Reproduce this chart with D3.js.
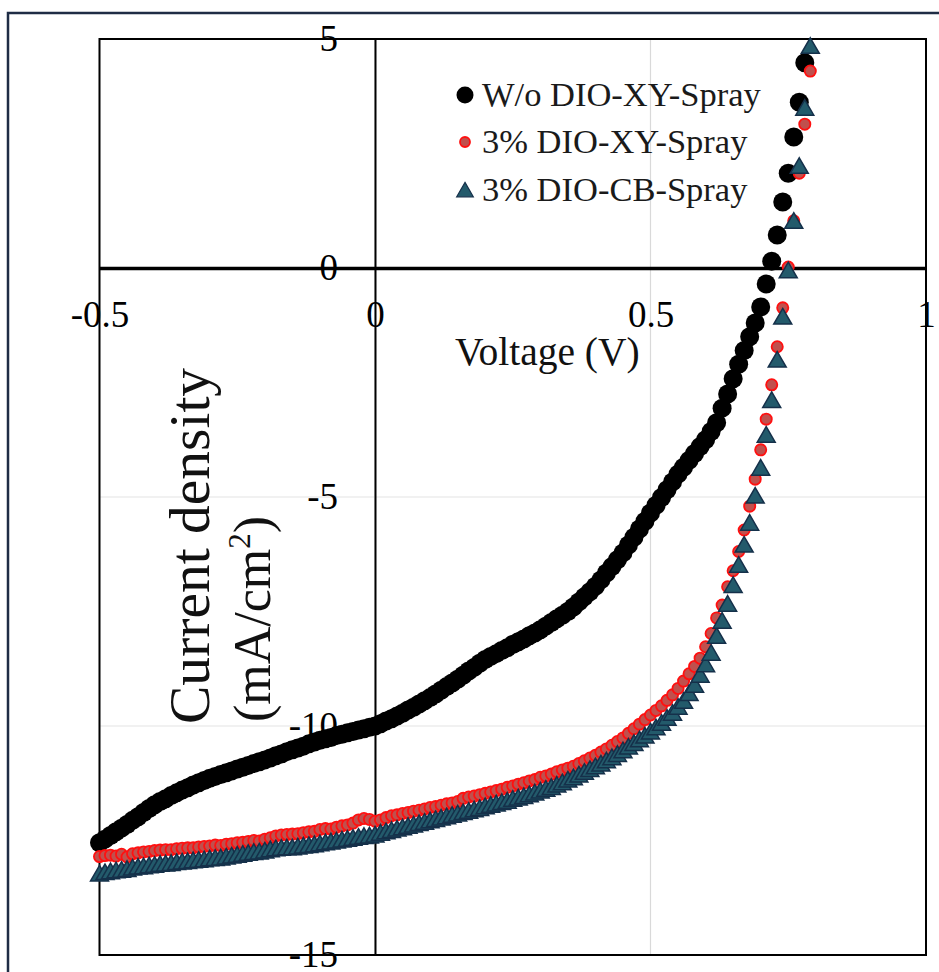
<!DOCTYPE html>
<html>
<head>
<meta charset="utf-8">
<script src="https://cdn.jsdelivr.net/npm/d3@7"></script>
<style>
  body { margin: 0; background: #fff; }
  svg { display: block; font-family: "Liberation Serif", "Times New Roman", serif; }
</style>
</head>
<body>
<div id="chart"></div>
<script>
// voltage sweep (V)
const volts = [
  -0.50, -0.49, -0.48, -0.47, -0.46, -0.45, -0.44, -0.43, -0.42, -0.41,
  -0.40, -0.39, -0.38, -0.37, -0.36, -0.35, -0.34, -0.33, -0.32, -0.31,
  -0.30, -0.29, -0.28, -0.27, -0.26, -0.25, -0.24, -0.23, -0.22, -0.21,
  -0.20, -0.19, -0.18, -0.17, -0.16, -0.15, -0.14, -0.13, -0.12, -0.11,
  -0.10, -0.09, -0.08, -0.07, -0.06, -0.05, -0.04, -0.03, -0.02, -0.01,
  0.00, 0.01, 0.02, 0.03, 0.04, 0.05, 0.06, 0.07, 0.08, 0.09,
  0.10, 0.11, 0.12, 0.13, 0.14, 0.15, 0.16, 0.17, 0.18, 0.19,
  0.20, 0.21, 0.22, 0.23, 0.24, 0.25, 0.26, 0.27, 0.28, 0.29,
  0.30, 0.31, 0.32, 0.33, 0.34, 0.35, 0.36, 0.37, 0.38, 0.39,
  0.40, 0.41, 0.42, 0.43, 0.44, 0.45, 0.46, 0.47, 0.48, 0.49,
  0.50, 0.51, 0.52, 0.53, 0.54, 0.55, 0.56, 0.57, 0.58, 0.59,
  0.60, 0.61, 0.62, 0.63, 0.64, 0.65, 0.66, 0.67, 0.68, 0.69,
  0.70, 0.71, 0.72, 0.73, 0.74, 0.75, 0.76, 0.77, 0.78, 0.79
];

// current density (mA/cm2), W/o DIO-XY-Spray
const jNoDio = [
  -12.55, -12.47, -12.39, -12.31, -12.23, -12.15, -12.06, -11.98, -11.89, -11.80,
  -11.72, -11.65, -11.59, -11.52, -11.46, -11.40, -11.35, -11.29, -11.24, -11.19,
  -11.14, -11.10, -11.06, -11.02, -10.98, -10.94, -10.90, -10.86, -10.82, -10.78,
  -10.74, -10.70, -10.65, -10.61, -10.56, -10.52, -10.48, -10.44, -10.39, -10.35,
  -10.31, -10.28, -10.25, -10.21, -10.18, -10.15, -10.12, -10.09, -10.06, -10.03,
  -10.00, -9.95, -9.89, -9.84, -9.78, -9.72, -9.65, -9.59, -9.52, -9.45,
  -9.38, -9.30, -9.22, -9.14, -9.06, -8.98, -8.89, -8.80, -8.72, -8.63,
  -8.55, -8.48, -8.42, -8.35, -8.29, -8.22, -8.16, -8.10, -8.03, -7.97,
  -7.90, -7.82, -7.74, -7.66, -7.58, -7.50, -7.40, -7.29, -7.18, -7.07,
  -6.95, -6.81, -6.66, -6.52, -6.37, -6.22, -6.05, -5.88, -5.70, -5.53,
  -5.35, -5.18, -5.01, -4.84, -4.67, -4.50, -4.35, -4.20, -4.05, -3.90,
  -3.75, -3.57, -3.38, -3.06, -2.75, -2.42, -2.10, -1.80, -1.50, -1.20,
  -0.85, -0.35, 0.15, 0.72, 1.44, 2.07, 2.86, 3.62, 4.48
];

// 3% DIO-XY-Spray
const jDioXy = [
  -12.85, -12.83, -12.82, -12.84, -12.80, -12.86, -12.79, -12.77, -12.75, -12.74,
  -12.72, -12.71, -12.70, -12.70, -12.68, -12.67, -12.66, -12.66, -12.64, -12.63,
  -12.62, -12.60, -12.61, -12.58, -12.57, -12.55, -12.54, -12.52, -12.50, -12.51,
  -12.47, -12.44, -12.40, -12.38, -12.37, -12.36, -12.35, -12.33, -12.31, -12.30,
  -12.26, -12.24, -12.25, -12.21, -12.18, -12.16, -12.12, -12.05, -12.02, -12.04,
  -12.08, -12.05, -12.00, -11.96, -11.94, -11.91, -11.89, -11.86, -11.84, -11.81,
  -11.78, -11.76, -11.73, -11.70, -11.68, -11.65, -11.58, -11.55, -11.53, -11.50,
  -11.47, -11.44, -11.41, -11.38, -11.34, -11.31, -11.27, -11.24, -11.20, -11.17,
  -11.12, -11.09, -11.05, -11.00, -10.96, -10.92, -10.88, -10.82, -10.76, -10.70,
  -10.64, -10.57, -10.50, -10.42, -10.34, -10.26, -10.16, -10.06, -9.96, -9.86,
  -9.76, -9.66, -9.56, -9.44, -9.32, -9.18, -9.02, -8.86, -8.70, -8.52,
  -8.27, -7.98, -7.64, -7.36, -6.96, -6.61, -6.19, -5.72, -5.20, -4.61,
  -3.97, -3.30, -2.55, -1.72, -0.87, 0.02, 1.03, 2.07, 3.14, 4.30
];

// 3% DIO-CB-Spray
const jDioCb = [
  -13.27, -13.24, -13.22, -13.20, -13.19, -13.17, -13.14, -13.12, -13.11, -13.09,
  -13.08, -13.06, -13.05, -13.04, -13.02, -13.01, -13.00, -12.98, -12.97, -12.96,
  -12.94, -12.93, -12.92, -12.90, -12.88, -12.86, -12.84, -12.82, -12.80, -12.79,
  -12.77, -12.74, -12.72, -12.71, -12.70, -12.70, -12.68, -12.66, -12.65, -12.63,
  -12.61, -12.59, -12.57, -12.55, -12.53, -12.51, -12.49, -12.47, -12.45, -12.44,
  -12.42, -12.38, -12.35, -12.32, -12.29, -12.26, -12.23, -12.20, -12.17, -12.14,
  -12.11, -12.08, -12.05, -12.02, -11.99, -11.96, -11.93, -11.90, -11.87, -11.84,
  -11.80, -11.77, -11.74, -11.71, -11.68, -11.64, -11.61, -11.58, -11.54, -11.50,
  -11.46, -11.42, -11.38, -11.33, -11.28, -11.22, -11.17, -11.11, -11.05, -10.99,
  -10.93, -10.87, -10.80, -10.73, -10.66, -10.58, -10.50, -10.42, -10.34, -10.26,
  -10.17, -10.08, -9.98, -9.87, -9.76, -9.63, -9.50, -9.33, -9.15, -8.93,
  -8.70, -8.45, -8.08, -7.75, -7.38, -6.97, -6.53, -6.09, -5.61, -5.02,
  -4.41, -3.69, -2.93, -2.05, -1.11, -0.10, 0.98, 2.18, 3.45, 4.80
];

const seriesNames = ["W/o DIO-XY-Spray", "3% DIO-XY-Spray", "3% DIO-CB-Spray"];
const xTicks = [-0.5, 0, 0.5, 1];
const xTickLabels = ["-0.5", "0", "0.5", "1"];
const yTicks = [5, 0, -5, -10, -15];
const yTickLabels = ["5", "0", "-5", "-10", "-15"];

const width = 939;
const height = 972;
const plot = { left: 99.5, right: 926, top: 39, bottom: 955 };
const serif = "'Liberation Serif', 'Times New Roman', serif";

const x = d3.scaleLinear().domain([-0.5, 1]).range([plot.left, plot.right]);
const y = d3.scaleLinear().domain([5, -15]).range([plot.top, plot.bottom]);

const svg = d3.select("#chart")
  .append("svg")
  .attr("width", width)
  .attr("height", height);

svg.append("rect")
  .attr("width", width)
  .attr("height", height)
  .attr("fill", "#fff");

// outer chart border (runs off the right / bottom edge)
svg.append("rect")
  .attr("x", 8)
  .attr("y", 13)
  .attr("width", width + 20)
  .attr("height", height + 20)
  .attr("fill", "none")
  .attr("stroke", "#1f2d45")
  .attr("stroke-width", 2.5);

// gridlines
svg.append("g")
  .selectAll("line")
  .data(xTicks)
  .enter()
  .append("line")
  .attr("x1", d => x(d))
  .attr("x2", d => x(d))
  .attr("y1", plot.top)
  .attr("y2", plot.bottom)
  .attr("stroke", "#d9d9d9")
  .attr("stroke-width", 1.2);

svg.append("g")
  .selectAll("line")
  .data(yTicks)
  .enter()
  .append("line")
  .attr("x1", plot.left)
  .attr("x2", plot.right)
  .attr("y1", d => y(d))
  .attr("y2", d => y(d))
  .attr("stroke", "#e3e3e3")
  .attr("stroke-width", 1.2);

// plot frame
svg.append("rect")
  .attr("x", plot.left)
  .attr("y", plot.top)
  .attr("width", plot.right - plot.left)
  .attr("height", plot.bottom - plot.top)
  .attr("fill", "none")
  .attr("stroke", "#000")
  .attr("stroke-width", 2);

// axes crossing at the origin
const xAxis = svg.append("g")
  .attr("transform", `translate(0,${y(0)})`)
  .call(d3.axisBottom(x)
    .tickValues(xTicks)
    .tickFormat((d, i) => xTickLabels[i])
    .tickSize(0)
    .tickPadding(33));

const yAxis = svg.append("g")
  .attr("transform", `translate(${x(0)},0)`)
  .call(d3.axisLeft(y)
    .tickValues(yTicks)
    .tickFormat((d, i) => yTickLabels[i])
    .tickSize(0)
    .tickPadding(37));

xAxis.select(".domain").attr("stroke", "#000").attr("stroke-width", 3.5);
yAxis.select(".domain").attr("stroke", "#000").attr("stroke-width", 2);
svg.selectAll(".tick text")
  .attr("font-family", serif)
  .attr("font-size", 37)
  .attr("fill", "#000");

// axis titles
svg.append("text")
  .attr("x", 455)
  .attr("y", 365)
  .attr("font-family", serif)
  .attr("font-size", 39.5)
  .attr("fill", "#111")
  .text("Voltage (V)");

svg.append("text")
  .attr("transform", "translate(209,724) rotate(-90)")
  .attr("font-family", serif)
  .attr("font-size", 57.5)
  .attr("fill", "#111")
  .text("Current density");

const yTitle2 = svg.append("text")
  .attr("transform", "translate(270,722) rotate(-90)")
  .attr("font-family", serif)
  .attr("font-size", 52)
  .attr("fill", "#111");
yTitle2.append("tspan").text("(mA/cm");
yTitle2.append("tspan").attr("font-size", 31).attr("dy", -20).text("2");
yTitle2.append("tspan").attr("dy", 20).text(")");

// data points
const triangle = d3.symbol().type(d3.symbolTriangle).size(140);

svg.append("g")
  .selectAll("circle")
  .data(jNoDio)
  .enter()
  .append("circle")
  .attr("cx", (d, i) => x(volts[i]))
  .attr("cy", d => y(d))
  .attr("r", 9.5)
  .attr("fill", "#000");

svg.append("g")
  .selectAll("circle")
  .data(jDioXy)
  .enter()
  .append("circle")
  .attr("cx", (d, i) => x(volts[i]))
  .attr("cy", d => y(d))
  .attr("r", 5.6)
  .attr("fill", "#c0504d")
  .attr("stroke", "#ff1010")
  .attr("stroke-width", 1.8);

svg.append("g")
  .selectAll("path")
  .data(jDioCb)
  .enter()
  .append("path")
  .attr("transform", (d, i) => `translate(${x(volts[i])},${y(d)})`)
  .attr("d", triangle)
  .attr("fill", "#235a6b")
  .attr("stroke", "#15304a")
  .attr("stroke-width", 1.5);

// legend
const legend = svg.append("g").attr("transform", "translate(465,0)");
const rows = [95, 142, 190];

legend.append("circle").attr("cx", 0).attr("cy", rows[0]).attr("r", 8.5).attr("fill", "#000");
legend.append("circle").attr("cx", 0).attr("cy", rows[1]).attr("r", 5)
  .attr("fill", "#c0504d").attr("stroke", "#ff1010").attr("stroke-width", 1.8);
legend.append("path")
  .attr("transform", `translate(0,${rows[2] + 2})`)
  .attr("d", d3.symbol().type(d3.symbolTriangle).size(120))
  .attr("fill", "#235a6b").attr("stroke", "#15304a").attr("stroke-width", 1.2);

legend.selectAll("text")
  .data(seriesNames)
  .enter()
  .append("text")
  .attr("x", 17)
  .attr("y", (d, i) => rows[i] + 11)
  .attr("font-family", serif)
  .attr("font-size", 34.5)
  .attr("fill", "#1a1a1a")
  .text(d => d);
</script>
</body>
</html>
